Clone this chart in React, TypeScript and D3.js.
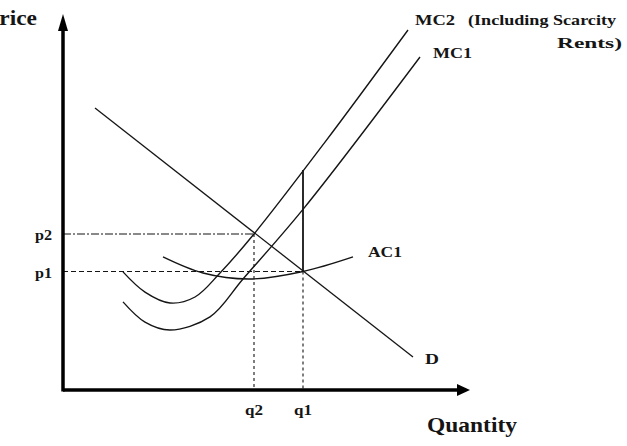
import React, { useEffect, useRef } from "react";
import * as d3 from "d3";

// Quantity / price pairs (arbitrary units 0-100)
const demand = [
  [8, 75.2],
  [87.5, 8.8],
];
const mc2 = [
  [15, 31.5],
  [20.5, 26.1],
  [26.75, 23.2],
  [33, 24.8],
  [39.25, 31.2],
  [47.75, 41.6],
  [65.5, 66.1],
  [86.25, 96],
];
const mc1 = [
  [15, 23.5],
  [20.5, 18.1],
  [26.75, 16],
  [36.75, 19.5],
  [45, 29.6],
  [60.25, 48.5],
  [89.25, 88.8],
];
const ac1 = [
  [25, 35.5],
  [35, 31.2],
  [46.75, 29.6],
  [60, 31.6],
  [72.5, 35.5],
];
const priceTicks = [
  { label: "p1", value: 31.6 },
  { label: "p2", value: 41.6 },
];
const quantityTicks = [
  { label: "q2", value: 47.75 },
  { label: "q1", value: 60 },
];
const rentTop = 58.7; // MC2 at q1

const App = () => {
  const chartRef = useRef<SVGSVGElement>(null);

  useEffect(() => {
    const width = 627;
    const height = 446;
    const font = "'Liberation Serif', 'Times New Roman', serif";
    const ink = "#151515";

    const svg = d3.select(chartRef.current);
    svg.selectAll("*").remove();
    svg.attr("width", width).attr("height", height);

    const x = d3.scaleLinear().domain([0, 100]).range([63, 463]);
    const y = d3.scaleLinear().domain([0, 100]).range([390, 15]);

    const line = d3
      .line<number[]>()
      .x((d) => x(d[0]))
      .y((d) => y(d[1]));
    const curve = d3
      .line<number[]>()
      .x((d) => x(d[0]))
      .y((d) => y(d[1]))
      .curve(d3.curveCatmullRom.alpha(0.5));

    const [p1, p2] = priceTicks;
    const [q2, q1] = quantityTicks;

    // Guide lines
    svg
      .append("line")
      .attr("x1", x(0))
      .attr("x2", x(q1.value))
      .attr("y1", y(p1.value))
      .attr("y2", y(p1.value))
      .attr("stroke", ink)
      .attr("stroke-width", 1.2)
      .attr("stroke-dasharray", "5,3");
    svg
      .append("line")
      .attr("x1", x(0))
      .attr("x2", x(q2.value))
      .attr("y1", y(p2.value))
      .attr("y2", y(p2.value))
      .attr("stroke", ink)
      .attr("stroke-width", 1.2)
      .attr("stroke-dasharray", "8,2,2,2");
    svg
      .append("line")
      .attr("x1", x(q2.value))
      .attr("x2", x(q2.value))
      .attr("y1", y(p2.value))
      .attr("y2", y(0))
      .attr("stroke", ink)
      .attr("stroke-width", 1.1)
      .attr("stroke-dasharray", "3,3");
    svg
      .append("line")
      .attr("x1", x(q1.value))
      .attr("x2", x(q1.value))
      .attr("y1", y(p1.value))
      .attr("y2", y(0))
      .attr("stroke", ink)
      .attr("stroke-width", 1.1)
      .attr("stroke-dasharray", "3,3");

    // Scarcity rent (solid vertical)
    svg
      .append("line")
      .attr("x1", x(q1.value))
      .attr("x2", x(q1.value))
      .attr("y1", y(p1.value))
      .attr("y2", y(rentTop))
      .attr("stroke", ink)
      .attr("stroke-width", 1.8);

    // Curves
    svg
      .append("path")
      .attr("d", line(demand))
      .attr("fill", "none")
      .attr("stroke", ink)
      .attr("stroke-width", 1.3);
    [mc2, mc1, ac1].forEach((pts) => {
      svg
        .append("path")
        .attr("d", curve(pts))
        .attr("fill", "none")
        .attr("stroke", ink)
        .attr("stroke-width", 1.4);
    });

    // Axes with arrowheads
    svg
      .append("line")
      .attr("x1", x(0))
      .attr("x2", x(0))
      .attr("y1", y(0) + 1.5)
      .attr("y2", 28)
      .attr("stroke", "#000")
      .attr("stroke-width", 3.5);
    svg
      .append("path")
      .attr("d", `M${x(0)},14 L${x(0) - 5},31 L${x(0) + 5},31 Z`)
      .attr("fill", "#000");
    svg
      .append("line")
      .attr("x1", x(0))
      .attr("x2", 460)
      .attr("y1", y(0))
      .attr("y2", y(0))
      .attr("stroke", "#000")
      .attr("stroke-width", 3.5);
    svg
      .append("path")
      .attr("d", `M470,${y(0)} L457,${y(0) - 6} L457,${y(0) + 6} Z`)
      .attr("fill", "#000");

    // Labels (the scan is stretched sideways, so widths are fixed with textLength)
    const label = (
      tx: number,
      ty: number,
      text: string,
      size: number,
      len: number,
      anchor = "start"
    ) =>
      svg
        .append("text")
        .attr("x", tx)
        .attr("y", ty)
        .attr("text-anchor", anchor)
        .attr("font-family", font)
        .attr("font-weight", "bold")
        .attr("font-size", size)
        .attr("textLength", len)
        .attr("lengthAdjust", "spacingAndGlyphs")
        .attr("fill", ink)
        .text(text);

    label(37, 25, "Price", 22, 52, "end");
    label(427, 432, "Quantity", 22, 90);
    priceTicks.forEach((t) =>
      label(52, y(t.value) + 6, t.label, 15, 17, "end")
    );
    quantityTicks.forEach((t) =>
      label(x(t.value), 415, t.label, 15, 18, "middle")
    );
    label(415, 25, "MC2", 14, 40);
    label(468, 25, "(Including Scarcity", 14, 148);
    label(622, 48, "Rents)", 14, 65, "end");
    label(433, 58, "MC1", 14, 39);
    label(368, 257, "AC1", 14, 34);
    label(425, 364, "D", 15, 14);
  }, []);

  return (
    <svg
      ref={chartRef}
      style={{ position: "absolute", left: 0, top: 0, background: "#fff" }}
    />
  );
};

export default App;
